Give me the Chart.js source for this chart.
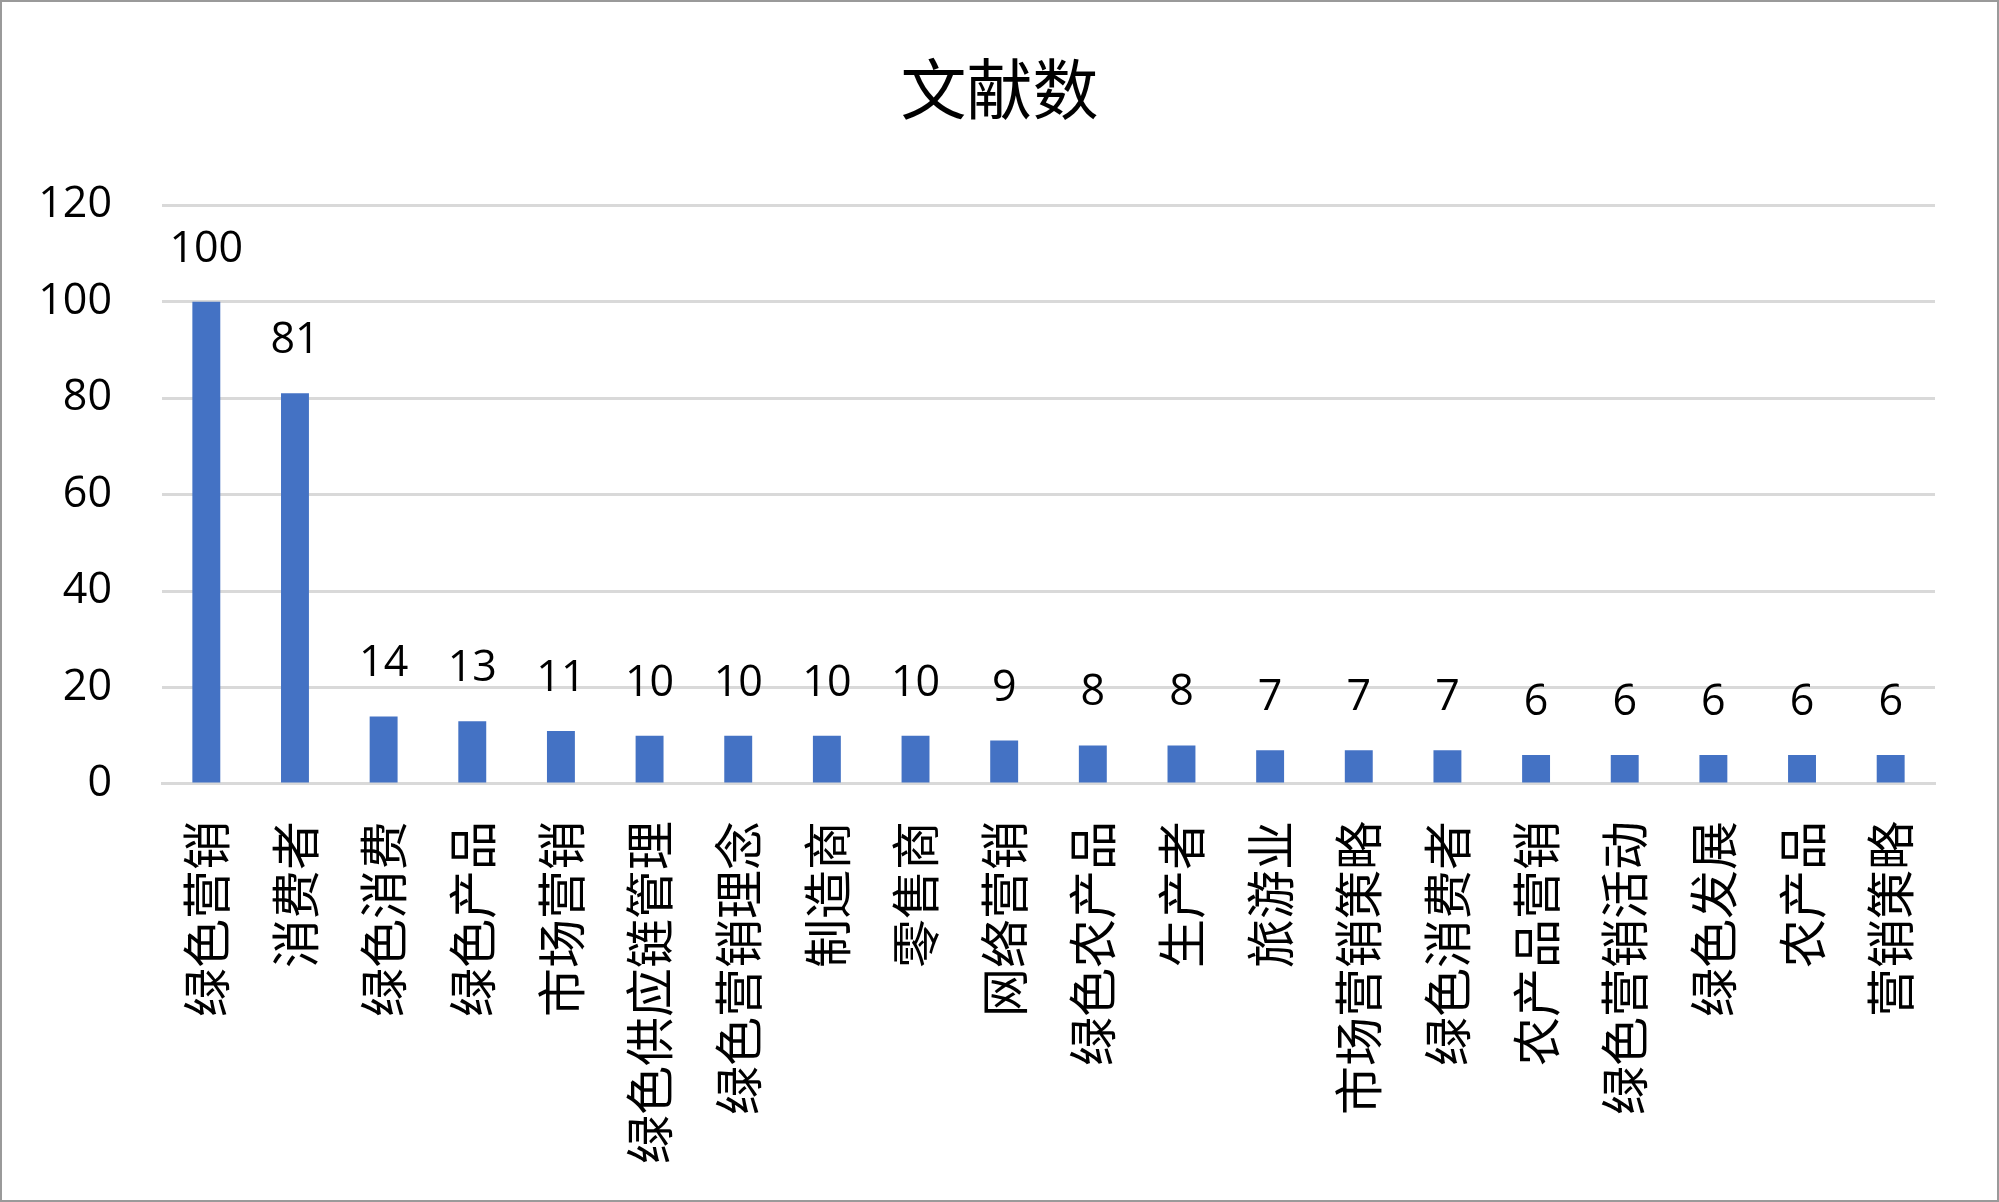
<!DOCTYPE html>
<html lang="zh">
<head>
    <meta charset="UTF-8">
    <title>文献数</title>
    <style>
        html, body { margin: 0; padding: 0; background: #fff; }
        #wrap {
            position: absolute; left: 0; top: 0;
            width: 1999px; height: 1202px;
            box-sizing: border-box;
            border: 2px solid #9a9a9a;
        }
    </style>
</head>
<body>
    <div id="wrap"><canvas id="myCanvas"></canvas></div>
    <script src="https://cdn.jsdelivr.net/npm/chart.js@4.4.0/dist/chart.umd.min.js"></script>
    <script>
        const title = '文献数';
        const keywords = ['绿色营销', '消费者', '绿色消费', '绿色产品', '市场营销', '绿色供应链管理', '绿色营销理念',
            '制造商', '零售商', '网络营销', '绿色农产品', '生产者', '旅游业', '市场营销策略', '绿色消费者',
            '农产品营销', '绿色营销活动', '绿色发展', '农产品', '营销策略'];
        const counts = [100, 81, 14, 13, 11, 10, 10, 10, 10, 9, 8, 8, 7, 7, 7, 6, 6, 6, 6, 6];
        const yTicks = [0, 20, 40, 60, 80, 100, 120];

        const latin = '"Open Sans", "Noto Sans CJK SC", sans-serif';
        const cjk = '"Noto Sans CJK SC", sans-serif';

        // value labels above each bar
        const barLabels = {
            id: 'barLabels',
            afterDatasetsDraw(chart) {
                const ctx = chart.ctx;
                const meta = chart.getDatasetMeta(0);
                ctx.save();
                ctx.font = '43px ' + latin;
                ctx.fillStyle = '#000';
                ctx.textAlign = 'center';
                ctx.textBaseline = 'alphabetic';
                meta.data.forEach((bar, i) => {
                    ctx.fillText(String(counts[i]), bar.x, bar.y - 40);
                });
                ctx.restore();
            }
        };

        var ctx = document.getElementById('myCanvas').getContext('2d');
        var myChart = new Chart(ctx, {
            type: 'bar',
            data: {
                labels: keywords,
                datasets: [{
                    label: title,
                    backgroundColor: '#4472C4',
                    data: counts,
                    barPercentage: 0.63,
                    categoryPercentage: 0.5
                }]
            },
            options: {
                responsive: true,
                maintainAspectRatio: false,
                animation: false,
                layout: { padding: { left: 38, right: 38, top: 10, bottom: 7 } },
                plugins: {
                    legend: { display: false },
                    tooltip: { enabled: false },
                    title: {
                        display: true,
                        text: title,
                        color: '#000',
                        font: { family: cjk, size: 66, weight: 'normal' },
                        padding: { top: 37, bottom: 77 }
                    }
                },
                scales: {
                    x: {
                        grid: { display: false },
                        border: { color: '#d9d9d9', width: 3 },
                        ticks: {
                            color: '#000',
                            font: { family: cjk, size: 49 },
                            minRotation: 90,
                            maxRotation: 90,
                            autoSkip: false,
                            padding: 29
                        }
                    },
                    y: {
                        min: 0,
                        max: 120,
                        afterBuildTicks(axis) { axis.ticks = yTicks.map(v => ({ value: v })); },
                        afterFit(axis) { axis.width = 122; },
                        grid: { color: '#d9d9d9', lineWidth: 3, drawTicks: false },
                        border: { display: false },
                        ticks: {
                            color: '#000',
                            font: { family: latin, size: 43 },
                            padding: 50
                        }
                    },
                    // empty right-hand gutter so the title stays centred on the page
                    gutter: {
                        position: 'right',
                        grid: { display: false },
                        border: { display: false },
                        ticks: { display: false },
                        afterFit(axis) { axis.width = 24; }
                    }
                }
            },
            plugins: [barLabels]
        });
    </script>
</body>
</html>
